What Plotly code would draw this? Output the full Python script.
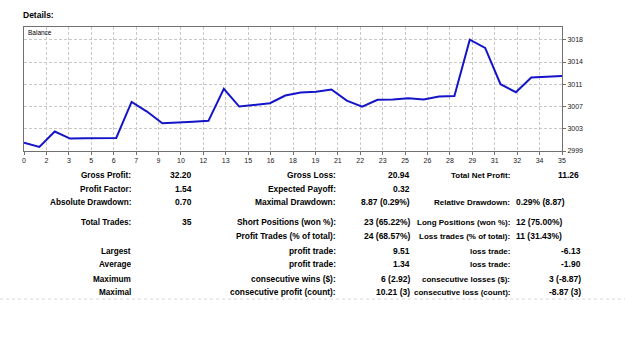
import plotly.graph_objects as go

# ---- data ----
trades = list(range(36))
balance = [3000.00, 2999.30, 3001.90, 3000.72, 3000.77, 3000.83, 3000.83, 3006.90,
           3005.27, 3003.30, 3003.36, 3003.53, 3003.70, 3009.09, 3006.11, 3006.33,
           3006.67, 3007.96, 3008.47, 3008.59, 3008.98, 3007.12, 3006.11, 3007.24,
           3007.29, 3007.51, 3007.29, 3007.80, 3007.88, 3017.39, 3016.00, 3009.87,
           3008.52, 3011.00, 3011.18, 3011.26]
x_tick_labels = ["0", "2", "3", "5", "6", "7", "9", "10", "12", "13", "15", "16", "18",
                 "19", "21", "22", "23", "25", "26", "28", "29", "31", "32", "34", "35"]
y_tick_labels = ["2999", "3003", "3007", "3011", "3014", "3018"]
y_base = 2998.62
y_step = 3.75

labels_1 = ["Gross Profit:", "Profit Factor:", "Absolute Drawdown:", "Total Trades:", "",
            "Largest", "Average", "Maximum", "Maximal"]
values_1 = ["32.20", "1.54", "0.70", "35", "", "", "", "", ""]
labels_2 = ["Gross Loss:", "Expected Payoff:", "Maximal Drawdown:", "Short Positions (won %):",
            "Profit Trades (% of total):", "profit trade:", "profit trade:",
            "consecutive wins ($):", "consecutive profit (count):"]
values_2 = ["20.94", "0.32", "8.87 (0.29%)", "23 (65.22%)", "24 (68.57%)", "9.51", "1.34",
            "6 (2.92)", "10.21 (3)"]
labels_3 = ["Total Net Profit:", "", "Relative Drawdown:", "Long Positions (won %):",
            "Loss trades (% of total):", "loss trade:", "loss trade:",
            "consecutive losses ($):", "consecutive loss (count):"]
values_3 = ["11.26", "", "0.29% (8.87)", "12 (75.00%)", "11 (31.43%)", "-6.13", "-1.90",
            "3 (-8.87)", "-8.87 (3)"]

# ---- layout geometry (pixels) ----
W, H = 625, 358
L, R, T, B = 24, 63, 27, 207
PW, PH = W - L - R, H - T - B
PX_PER_STEP = 22.25


def px_x(px):
    return (px - L) / PW


def px_y(py):
    return (H - B - py) / PH


n_xt = len(x_tick_labels)
x_tickvals = [i * (trades[-1] - trades[0]) / (n_xt - 1) for i in range(n_xt)]
y_tickvals = [y_base + i * y_step for i in range(len(y_tick_labels))]
y_top = y_base + PH * y_step / PX_PER_STEP

fig = go.Figure()
fig.add_trace(go.Scatter(x=trades, y=balance, mode="lines",
                         line=dict(color="#1414c8", width=2), hoverinfo="skip"))

FONT = "Liberation Sans, Arial, sans-serif"
fig.update_layout(
    width=W, height=H, autosize=False,
    margin=dict(l=L, r=R, t=T, b=B, pad=0),
    paper_bgcolor="white", plot_bgcolor="white",
    showlegend=False,
    font=dict(family=FONT, color="#000000"),
    xaxis=dict(range=[trades[0], trades[-1]], tickvals=x_tickvals, ticktext=x_tick_labels,
               showgrid=True, gridcolor="#c8c8c8", griddash="3px,2px", gridwidth=1,
               showline=True, linecolor="#707070", linewidth=1, mirror=True,
               ticks="outside", ticklen=3, tickcolor="#707070",
               tickfont=dict(size=7, family=FONT, color="#202020"), zeroline=False,
               fixedrange=True),
    yaxis=dict(range=[y_base, y_top], tickvals=y_tickvals, ticktext=y_tick_labels,
               side="right",
               showgrid=True, gridcolor="#c8c8c8", griddash="3px,2px", gridwidth=1,
               showline=True, linecolor="#707070", linewidth=1, mirror=True,
               ticks="outside", ticklen=3, tickcolor="#707070",
               tickfont=dict(size=7, family=FONT, color="#202020"), zeroline=False,
               fixedrange=True),
)

ann = []
ann.append(dict(text="<b>Details:</b>", x=px_x(21), y=px_y(15), xanchor="left", yanchor="middle",
                font=dict(size=8.5, family=FONT, color="#000")))
ann.append(dict(text="Balance", x=px_x(26), y=px_y(33), xanchor="left", yanchor="middle",
                font=dict(size=6.5, family=FONT, color="#000")))

row_y = [175, 189, 202, 222, 236, 251, 264, 279, 292]


def add_text(txt, xpx, ypx, anchor, size=8.5, family=FONT):
    if txt:
        ann.append(dict(text="<b>" + txt + "</b>", x=px_x(xpx), y=px_y(ypx),
                        xanchor=anchor, yanchor="middle",
                        font=dict(size=size, family=family, color="#000")))


for i, yy in enumerate(row_y):
    add_text(labels_1[i], 133, yy, "right", size=8.2)
    add_text(values_1[i], 194, yy, "right")
    add_text(labels_2[i], 338, yy, "right", size=8.4)
    add_text(values_2[i], 412, yy, "right")
    add_text(labels_3[i], 512, yy, "right", size=8)
    v = values_3[i]
    if "%" in v:
        add_text(v, 514, yy, "left")
    elif i == 0:
        add_text(v, 581, yy, "right")
    else:
        add_text(v, 583, yy, "right")

for a in ann:
    a.update(xref="paper", yref="paper", showarrow=False)
fig.update_layout(annotations=ann)

fig.add_shape(type="line", xref="paper", yref="paper",
              x0=px_x(0), x1=px_x(W), y0=px_y(299), y1=px_y(299),
              line=dict(color="#d8d8d8", width=1, dash="dot"))

fig.write_html("out.html", config={"displayModeBar": False})
